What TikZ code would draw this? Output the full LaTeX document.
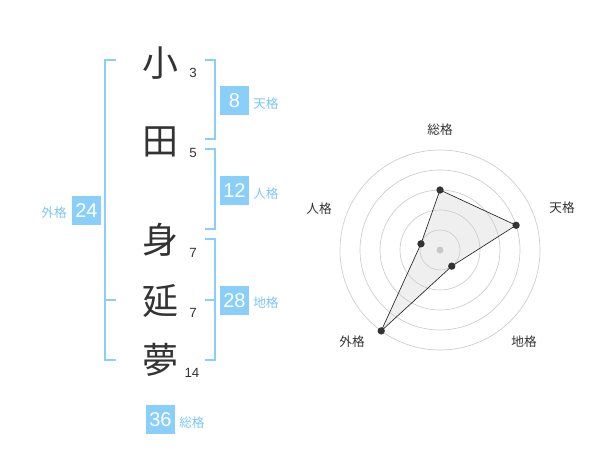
\documentclass[tikz,border=0pt]{standalone}
\usepackage{fontspec}
\setmainfont{Liberation Sans}
\newfontfamily\jp{Noto Sans CJK JP}
\usetikzlibrary{calc}
\definecolor{brk}{RGB}{137,207,250}
\definecolor{boxc}{RGB}{137,207,250}
\definecolor{ink}{RGB}{51,51,51}
\definecolor{lbl}{RGB}{125,198,245}
\begin{document}
\begin{tikzpicture}[x=0.75pt,y=-0.75pt,
 kanji/.style={font=\jp\fontsize{27}{27}\selectfont, text=ink, inner sep=0},
 stroke/.style={font=\fontsize{10}{10}\selectfont, text=ink, inner sep=0},
 valbox/.style={fill=boxc, text=white, minimum size=21.75pt, inner sep=0, font=\fontsize{15}{15}\selectfont},
 vallbl/.style={font=\jp\fontsize{9.5}{9.5}\selectfont, text=lbl, inner sep=0},
 bracket/.style={draw=brk, line width=1.5pt},
 ring/.style={draw=black!20, line width=0.5pt},
 axlbl/.style={font=\jp\fontsize{9.5}{9.5}\selectfont, text=ink, inner sep=0},
 dot/.style={circle, fill=ink, inner sep=0, minimum size=5.5pt}]
\useasboundingbox (0,0) rectangle (600,470);
% characters
\node[kanji] (k1) at (160,63) {小};
\node[kanji] (k2) at (160,142) {田};
\node[kanji] (k3) at (160,240) {身};
\node[kanji] (k4) at (160,301) {延};
\node[kanji] (k5) at (160,360) {夢};
% stroke counts
\node[stroke] (n1) at (193,73) {3};
\node[stroke] (n2) at (193,153) {5};
\node[stroke] (n3) at (193,253) {7};
\node[stroke] (n4) at (193,313) {7};
\node[stroke] (n5) at (192,373) {14};
% brackets
\draw[bracket] (116,60) -- (105,60) -- (105,360) -- (116,360);
\draw[bracket] (105,300) -- (116,300);
\draw[bracket] (205,60) -- (215,60) -- (215,139) -- (205,139);
\draw[bracket] (205,149) -- (215,149) -- (215,229) -- (205,229);
\draw[bracket] (205,239) -- (215,239) -- (215,360) -- (205,360);
\draw[bracket] (205,300) -- (215,300);
% value boxes
\node[valbox] (bten) at (234.5,100.5) {8};
\node[vallbl, anchor=west] (lten) at (253,104) {天格};
\node[valbox] (bjin) at (234.5,190.5) {12};
\node[vallbl, anchor=west] (ljin) at (253,194) {人格};
\node[valbox] (bchi) at (234.5,300.5) {28};
\node[vallbl, anchor=west] (lchi) at (253,303) {地格};
\node[valbox] (bgai) at (86.5,210.5) {24};
\node[vallbl, anchor=east] (lgai) at (67,213) {外格};
\node[valbox] (bso) at (160.5,419.5) {36};
\node[vallbl, anchor=west] (lso) at (179,423) {総格};
% radar
\coordinate (c) at (440,250);
\coordinate (p1) at ([shift={(90:45pt)}]c);
\coordinate (p2) at ([shift={(18:60pt)}]c);
\coordinate (p3) at ([shift={(-54:15pt)}]c);
\coordinate (p4) at ([shift={(-126:75pt)}]c);
\coordinate (p5) at ([shift={(162:15pt)}]c);
\fill[black!10, fill opacity=0.6] (p1) -- (p2) -- (p3) -- (p4) -- (p5) -- cycle;
\foreach \r in {15,30,45,60,75} \draw[ring] (c) circle[radius=\r pt];
\fill[black!22] (c) circle[radius=2.6pt];
\draw[black!85, line width=0.5pt] (p1) -- (p2) -- (p3) -- (p4) -- (p5) -- cycle;
\foreach \p in {p1,p2,p3,p4,p5} \node[dot] at (\p) {};
\node[axlbl] (a1) at (440,130) {総格};
\node[axlbl] (a2) at (562,208) {天格};
\node[axlbl] (a3) at (524,342) {地格};
\node[axlbl] (a4) at (352,342) {外格};
\node[axlbl] (a5) at (319,209) {人格};
\end{tikzpicture}
\end{document}
